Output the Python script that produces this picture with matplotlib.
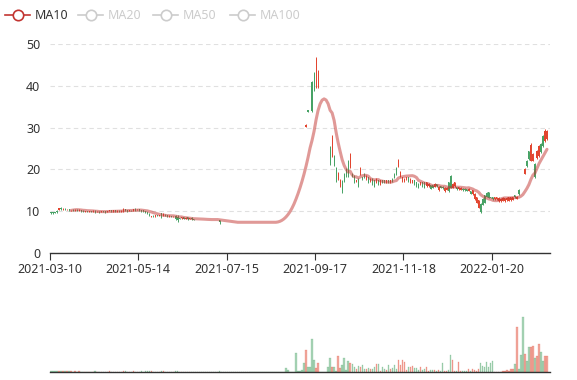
import numpy as np
import pandas as pd
import matplotlib
matplotlib.use("Agg")
import matplotlib.pyplot as plt
from matplotlib.lines import Line2D

plt.rcParams['font.family'] = ['Noto Sans', 'DejaVu Sans']

nan = float('nan')

# tick labels shown on the category axis (one every 44 trading days)
tick_labels = ['2021-03-10', '2021-05-14', '2021-07-15', '2021-09-17', '2021-11-18', '2022-01-20']
tick_step = 44
n_days = 249

opens = [
    9.8, 9.7, 9.8, 10.1, 10.3, 10.8, 10.4, 10.6, 10.3, 10.5,
    10.2, 10.4, 10.2, 10.4, 10.1, 10.3, 10.1, 9.9, 10.0, 9.9,
    10.0, 9.9, 10.1, 9.8, 9.9, 9.8, 10.0, 10.0, 9.8, 10.1,
    10.2, 10.0, 10.2, 10.0, 10.1, 9.9, 10.0, 10.5, 10.2, 10.1,
    10.3, 10.2, 10.6, 10.3, 10.5, 10.3, 10.2, 10.0, 9.7, 9.4,
    8.5, 8.9, 8.8, 9.0, 8.9, 9.5, 8.9, 9.2, 9.0, 8.8,
    8.8, 8.6, 8.9, 8.6, 8.3, 8.3, 8.5, 8.2, 8.5, 8.2,
    8.4, 8.1, 8.0, 8.0, 8.0, 8.0, 8.0, 8.0, 8.0, 8.0,
    8.0, 8.0, 8.0, 8.0, 7.8, 7.35, 7.35, 7.35, 7.35, 7.35,
    7.35, 7.35, 7.35, 7.35, 7.35, 7.35, 7.35, 7.35, 7.35, 7.35,
    7.35, 7.35, 7.35, 7.35, 7.35, 7.35, 7.35, 7.35, 7.35, 7.35,
    7.35, 7.35, 7.35, 8.09, 8.89, 9.78, 10.76, 11.84, 13.02, 14.32,
    15.76, 17.33, 19.07, 20.97, 23.07, 25.38, 27.92, 30.2, 34.1, 37.2,
    40.9, 43.0, 39.6, 39.6, 38.5, 34.5, 31.0, 27.9, 25.1, 25.4,
    23.3, 23.2, 20.4, 17.7, 16.1, 17.3, 19.0, 20.1, 21.9, 20.5,
    19.0, 18.5, 17.0, 17.7, 18.8, 18.2, 19.0, 17.6, 18.2, 17.2,
    17.8, 17.4, 16.8, 17.4, 16.4, 17.4, 17.4, 16.8, 17.4, 16.9,
    17.8, 19.0, 20.4, 20.8, 18.4, 17.2, 17.2, 17.6, 18.2, 16.8,
    16.8, 17.4, 17.0, 16.6, 16.4, 17.0, 17.0, 16.0, 16.0, 16.2,
    16.2, 15.9, 16.4, 15.0, 16.0, 15.9, 14.8, 15.1, 17.0, 18.5,
    15.6, 16.0, 15.8, 15.2, 15.1, 15.4, 15.4, 15.3, 14.9, 14.8,
    14.0, 12.8, 12.0, 10.8, 11.8, 13.0, 13.8, 14.4, 14.6, 13.5,
    13.4, 12.8, 12.8, 12.5, 12.4, 12.5, 12.4, 12.6, 12.5, 12.6,
    12.7, 13.8, 13.0, 15.1, 15.5, 17.2, 18.9, 22.0, 24.3, 22.1,
    22.1, 21.3, 22.8, 23.2, 26.0, 28.0, 26.8, 27.2, nan,
]

closes = [
    9.5, 9.5, 9.6, 9.8, 10.7, 10.5, 10.6, 10.3, 10.4, 10.2,
    10.3, 10.2, 10.4, 10.1, 10.3, 10.1, 9.9, 10.0, 9.8, 10.0,
    9.9, 10.1, 9.8, 9.9, 9.7, 10.0, 9.9, 9.8, 10.0, 10.2,
    10.0, 10.2, 10.0, 10.1, 9.9, 10.1, 10.6, 10.2, 10.1, 10.3,
    10.2, 10.5, 10.2, 10.4, 10.2, 9.9, 10.0, 9.6, 9.5, 9.0,
    8.8, 8.8, 9.0, 8.9, 9.0, 8.6, 9.4, 9.0, 8.8, 8.9,
    8.6, 8.7, 8.2, 8.0, 8.2, 8.5, 8.2, 8.4, 8.2, 8.3,
    8.1, 8.0, 8.0, 8.0, 8.0, 8.0, 8.0, 8.0, 8.0, 8.0,
    8.0, 8.0, 8.0, 8.0, 7.35, 7.35, 7.35, 7.35, 7.35, 7.35,
    7.35, 7.35, 7.35, 7.35, 7.35, 7.35, 7.35, 7.35, 7.35, 7.35,
    7.35, 7.35, 7.35, 7.35, 7.35, 7.35, 7.35, 7.35, 7.35, 7.35,
    7.35, 7.35, 7.35, 8.09, 8.89, 9.78, 10.76, 11.84, 13.02, 14.32,
    15.76, 17.33, 19.07, 20.97, 23.07, 25.38, 27.92, 30.7, 33.8, 37.2,
    34.0, 39.0, 46.5, 43.5, 38.5, 34.5, 31.0, 27.9, 25.1, 21.5,
    27.6, 21.0, 17.6, 19.2, 17.4, 14.8, 17.3, 18.5, 18.6, 23.6,
    18.5, 17.0, 17.4, 16.1, 20.4, 17.6, 18.0, 18.5, 16.8, 17.8,
    16.4, 16.0, 17.8, 16.4, 17.4, 16.8, 16.9, 17.4, 16.9, 17.4,
    17.2, 18.0, 18.9, 22.3, 19.3, 18.1, 17.8, 18.2, 17.2, 17.8,
    17.4, 16.5, 16.0, 15.6, 17.0, 16.0, 15.6, 17.0, 16.6, 15.3,
    15.6, 16.6, 16.0, 15.9, 15.6, 15.5, 15.6, 15.6, 14.8, 15.6,
    16.6, 17.0, 15.2, 15.8, 15.6, 15.0, 15.0, 14.9, 15.4, 14.2,
    15.0, 14.2, 13.4, 12.6, 9.7, 11.6, 12.0, 13.4, 13.2, 13.2,
    12.8, 13.4, 13.4, 13.2, 13.0, 13.2, 13.1, 13.2, 13.3, 13.3,
    13.4, 13.3, 13.5, 14.0, 15.5, 17.2, 20.2, 20.8, 22.4, 25.8,
    23.6, 18.2, 24.4, 25.5, 24.2, 25.6, 29.3, 29.1, nan,
]

highs = [
    9.9, 9.8, 9.9, 10.2, 10.8, 10.9, 10.7, 10.7, 10.5, 10.6,
    10.4, 10.5, 10.5, 10.5, 10.5, 10.4, 10.2, 10.1, 10.1, 10.1,
    10.1, 10.2, 10.2, 10.0, 10.0, 10.1, 10.1, 10.1, 10.1, 10.3,
    10.3, 10.3, 10.3, 10.2, 10.2, 10.2, 10.8, 10.6, 10.3, 10.4,
    10.4, 10.6, 10.7, 10.5, 10.6, 10.4, 10.3, 10.1, 9.8, 9.5,
    8.9, 9.0, 9.1, 9.1, 9.1, 9.6, 9.6, 9.3, 9.1, 9.0,
    8.9, 8.8, 9.1, 9.1, 8.4, 8.6, 8.6, 8.5, 8.6, 8.4,
    8.5, 8.2, 8.0, 8.0, 8.0, 8.0, 8.0, 8.0, 8.0, 8.0,
    8.0, 8.0, 8.0, 8.0, 7.9, 7.35, 7.35, 7.35, 7.35, 7.35,
    7.35, 7.35, 7.35, 7.35, 7.35, 7.35, 7.35, 7.35, 7.35, 7.35,
    7.35, 7.35, 7.35, 7.35, 7.35, 7.35, 7.35, 7.35, 7.35, 7.35,
    7.35, 7.35, 7.35, 8.09, 8.89, 9.78, 10.76, 11.84, 13.02, 14.32,
    15.76, 17.33, 19.07, 20.97, 23.07, 25.38, 27.92, 30.9, 34.2, 37.2,
    41.2, 43.2, 47.0, 43.8, 38.5, 34.5, 31.0, 27.9, 25.1, 25.6,
    28.2, 23.4, 20.6, 19.4, 17.6, 17.5, 19.1, 20.3, 22.2, 23.9,
    19.1, 18.7, 17.5, 17.9, 20.6, 18.3, 19.1, 18.7, 18.3, 17.9,
    17.9, 17.5, 17.9, 17.5, 17.5, 17.5, 17.5, 17.5, 17.5, 17.5,
    17.9, 19.1, 20.6, 22.6, 19.5, 18.3, 17.9, 18.3, 18.3, 17.9,
    17.5, 17.5, 17.1, 16.7, 17.1, 17.1, 17.1, 17.1, 16.7, 16.3,
    16.3, 16.7, 16.5, 16.0, 16.1, 16.0, 15.7, 15.7, 17.1, 18.7,
    16.7, 17.1, 15.9, 15.9, 15.7, 15.5, 15.5, 15.4, 15.5, 14.9,
    15.1, 14.3, 13.5, 12.7, 11.9, 13.1, 13.9, 14.5, 14.7, 13.5,
    13.5, 13.5, 13.5, 13.4, 13.1, 13.3, 13.2, 13.3, 13.4, 13.4,
    13.5, 13.9, 13.6, 15.2, 15.5, 17.2, 20.3, 22.2, 24.5, 26.2,
    23.9, 21.5, 24.6, 25.8, 26.2, 28.2, 29.6, 29.4, nan,
]

lows = [
    9.4, 9.4, 9.5, 9.6, 10.2, 10.4, 10.3, 10.2, 10.2, 10.0,
    10.1, 10.1, 10.1, 10.0, 10.0, 9.9, 9.8, 9.8, 9.7, 9.8,
    9.8, 9.8, 9.6, 9.7, 9.6, 9.7, 9.8, 9.6, 9.7, 10.0,
    9.9, 9.9, 9.9, 9.9, 9.8, 9.8, 9.9, 10.1, 9.9, 10.0,
    10.1, 10.1, 10.1, 10.2, 10.1, 9.8, 9.9, 9.5, 9.4, 8.9,
    8.5, 8.7, 8.7, 8.8, 8.8, 8.4, 8.9, 8.9, 8.7, 8.7,
    8.5, 8.5, 7.9, 7.5, 8.1, 8.2, 8.1, 8.1, 8.0, 8.1,
    8.0, 7.9, 8.0, 8.0, 8.0, 8.0, 8.0, 8.0, 8.0, 8.0,
    8.0, 8.0, 8.0, 8.0, 6.9, 7.35, 7.35, 7.35, 7.35, 7.35,
    7.35, 7.35, 7.35, 7.35, 7.35, 7.35, 7.35, 7.35, 7.35, 7.35,
    7.35, 7.35, 7.35, 7.35, 7.35, 7.35, 7.35, 7.35, 7.35, 7.35,
    7.35, 7.35, 7.35, 8.09, 8.89, 9.78, 10.76, 11.84, 13.02, 14.32,
    15.76, 17.33, 19.07, 20.97, 23.07, 25.38, 27.92, 30.1, 33.7, 37.2,
    33.8, 38.8, 39.4, 39.4, 38.5, 34.5, 31.0, 27.9, 25.1, 21.1,
    23.0, 20.8, 17.1, 17.5, 15.9, 14.3, 17.1, 18.3, 18.3, 20.3,
    18.3, 16.7, 16.9, 15.9, 18.7, 17.5, 17.9, 17.5, 16.7, 17.1,
    16.3, 15.9, 16.7, 16.3, 16.3, 16.7, 16.8, 16.7, 16.8, 16.8,
    17.1, 17.9, 18.7, 20.6, 18.3, 17.1, 17.1, 17.5, 17.1, 16.7,
    16.7, 16.3, 15.9, 15.5, 16.3, 15.9, 15.5, 15.9, 15.9, 15.2,
    15.5, 15.9, 15.9, 14.9, 15.5, 15.4, 14.7, 15.0, 14.7, 15.5,
    15.5, 15.9, 15.1, 15.1, 15.0, 14.9, 14.9, 14.8, 14.8, 14.1,
    13.9, 12.7, 11.9, 10.7, 9.5, 11.5, 11.9, 13.3, 13.1, 13.1,
    12.7, 12.7, 12.7, 12.3, 12.3, 12.4, 12.3, 12.5, 12.4, 12.5,
    12.6, 13.2, 12.9, 13.9, 15.5, 17.2, 18.8, 20.6, 22.2, 21.9,
    21.9, 17.9, 22.6, 23.0, 23.9, 25.4, 26.6, 27.0, nan,
]

volumes = [
    12, 8, 6, 10, 14, 9, 7, 8, 6, 7,
    6, 5, 7, 5, 6, 5, 4, 5, 4, 5,
    4, 5, 6, 4, 5, 4, 4, 5, 4, 6,
    5, 4, 5, 4, 4, 5, 10, 6, 4, 5,
    4, 6, 5, 4, 5, 6, 5, 7, 6, 8,
    9, 5, 4, 4, 4, 10, 8, 5, 4, 4,
    5, 4, 9, 11, 5, 4, 4, 3, 4, 3,
    4, 4, 0, 0, 0, 0, 0, 0, 0, 0,
    0, 0, 0, 0, 6, 0, 0, 0, 0, 0,
    0, 0, 0, 0, 0, 0, 0, 0, 0, 0,
    0, 0, 0, 0, 0, 0, 0, 0, 0, 0,
    0, 0, 0, 3, 3, 4, 5, 43, 20, 5,
    5, 5, 193, 10, 10, 20, 93, 220, 47, 47,
    333, 120, 37, 93, 5, 5, 5, 5, 47, 137,
    47, 47, 10, 160, 37, 70, 143, 20, 113, 87,
    80, 47, 27, 60, 53, 70, 27, 27, 37, 27,
    27, 47, 80, 80, 10, 47, 27, 20, 70, 27,
    37, 70, 27, 120, 70, 120, 97, 20, 47, 47,
    60, 37, 37, 20, 47, 20, 27, 53, 10, 20,
    20, 20, 10, 20, 10, 93, 10, 10, 20, 170,
    120, 10, 10, 103, 10, 10, 10, 10, 27, 10,
    27, 20, 10, 27, 87, 60, 47, 103, 47, 87,
    113, 5, 5, 5, 5, 10, 10, 20, 10, 27,
    27, 80, 453, 27, 170, 547, 180, 110, 253, 247,
    260, 137, 160, 280, 203, 113, 160, 160, nan,
]

up_color = '#e2452f'
down_color = '#47a265'
ma_color = '#c23531'

o = np.array(opens)
c = np.array(closes)
h = np.array(highs)
lo = np.array(lows)
v = np.array(volumes)
x = np.arange(n_days)

ma10 = pd.Series(c).rolling(10).mean().to_numpy()
ma10[:10] = nan

fig = plt.figure(figsize=(5.77, 3.80), dpi=100)
W, H = 577, 380
ax = fig.add_axes([50 / W, 1 - 253 / H, 500 / W, 209 / H])
axv = fig.add_axes([50 / W, 1 - 372 / H, 500 / W, 70 / H])

# candles (flat one-price days draw nothing)
traded = ~np.isnan(c) & ~((o == c) & (h == lo))
up = c > o
cols = np.where(up, up_color, down_color)
ax.vlines(x[traded], lo[traded], h[traded], colors=cols[traded], lw=0.7, zorder=2)
body_lo = np.minimum(o, c)
body_h = np.maximum(np.abs(c - o), 0.08)
ax.bar(x[traded], body_h[traded], bottom=body_lo[traded], width=0.55,
       color=cols[traded], linewidth=0, zorder=2)

ax.plot(x, ma10, color=ma_color, alpha=0.5, lw=2.2, zorder=3,
        solid_capstyle='round', solid_joinstyle='round')

ax.set_xlim(-0.5, n_days - 0.5)
ax.set_ylim(0, 50)
ax.set_yticks([0, 10, 20, 30, 40, 50])
ax.grid(axis='y', color='#e0e0e0', linestyle=(0, (4, 3)), lw=0.8)
ax.set_axisbelow(True)
for s in ['top', 'right', 'left']:
    ax.spines[s].set_visible(False)
ax.spines['bottom'].set_color('#333333')
ax.spines['bottom'].set_linewidth(1)
tick_pos = [k * tick_step - 0.5 for k in range(len(tick_labels))]
ax.set_xticks(tick_pos)
ax.set_xticklabels(tick_labels)
ax.tick_params(axis='x', length=5, color='#333333', labelsize=9, labelcolor='#333333', pad=2)
ax.tick_params(axis='y', length=0, labelsize=9, labelcolor='#333333', pad=7)

# volume panel
vcols = np.where(up, up_color, down_color)
axv.bar(x, v, width=0.7, color=vcols, alpha=0.45, edgecolor=vcols, linewidth=0.3)
axv.set_xlim(-0.5, n_days - 0.5)
axv.set_ylim(0, 700)
for s in ['top', 'right', 'left']:
    axv.spines[s].set_visible(False)
axv.spines['bottom'].set_color('#333333')
axv.spines['bottom'].set_linewidth(1)
axv.set_xticks([])
axv.set_yticks([])

# legend
leg = fig.add_axes([0, 0, 1, 1])
leg.set_xlim(0, W)
leg.set_ylim(H, 0)
leg.axis('off')
legend_items = ['MA10', 'MA20', 'MA50', 'MA100']
legend_x = [5, 78, 153, 230]
for k, name in enumerate(legend_items):
    col = ma_color if k == 0 else '#cccccc'
    tcol = '#333333' if k == 0 else '#cccccc'
    x0 = legend_x[k]
    leg.add_line(Line2D([x0, x0 + 25], [15, 15], color=col, lw=1.2))
    leg.plot([x0 + 12.5], [15], marker='o', ms=7.5, mfc='white', mec=col, mew=1.2)
    leg.text(x0 + 30, 15.5, name, color=tcol, fontsize=9, va='center', ha='left')

fig.savefig('out.png', dpi=100)
